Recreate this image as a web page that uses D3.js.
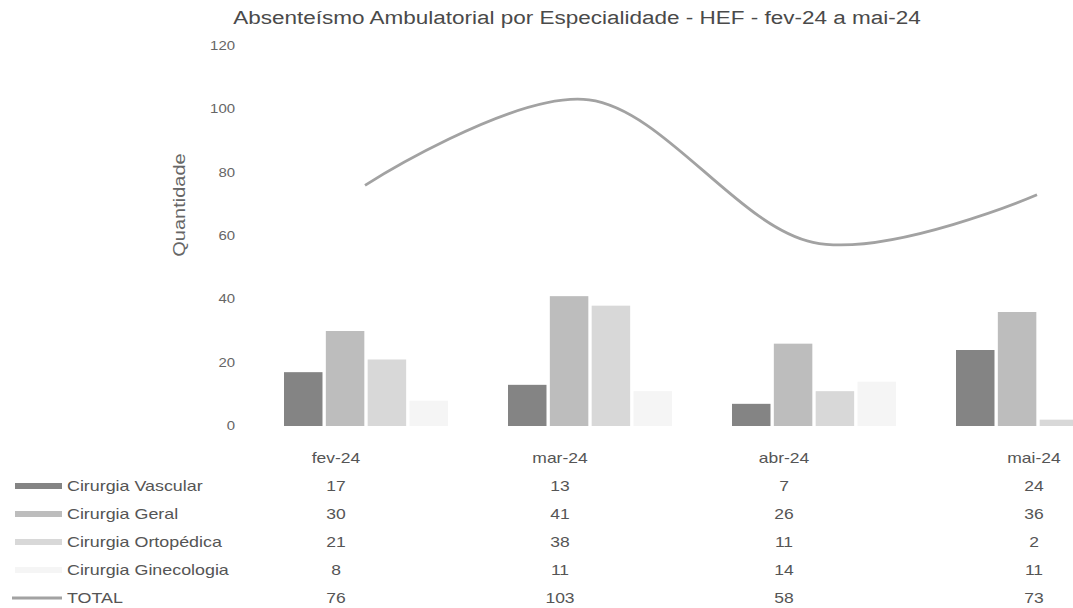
<!DOCTYPE html>
<html><head><meta charset="utf-8">
<script src="https://cdn.jsdelivr.net/npm/d3@7"></script>
<style>
html,body{margin:0;padding:0;background:#fff;}
svg{display:block;font-family:"Liberation Sans",Arial,sans-serif;}
</style></head>
<body>
<svg id="c" width="1073" height="608"></svg>
<script>
const categories = ["fev-24","mar-24","abr-24","mai-24"];
const seriesNames = ["Cirurgia Vascular","Cirurgia Geral","Cirurgia Ortopédica","Cirurgia Ginecologia"];
const vascular = [17,13,7,24];
const geral = [30,41,26,36];
const ortopedica = [21,38,11,2];
const ginecologia = [8,11,14,11];
const total = [76,103,58,73];
const yTicks = [0,20,40,60,80,100,120];
const barSeries = [vascular, geral, ortopedica, ginecologia];
const colors = ["#848484","#bdbdbd","#d8d8d8","#f5f5f5"];
const lineColor = "#a2a2a2";
const SX = 1.25; // horizontal stretch of text as in the reference

const svg = d3.select("#c");
const y = d3.scaleLinear().domain([0,120]).range([426,46]);
const x = d3.scaleBand().domain(categories).range([253,1149]);
const x1 = d3.scaleBand().domain(d3.range(4)).range([31,195]).paddingInner(0.08);

function stext(g, px, py, str, size, anchor, fill){
  return g.append("text")
    .attr("transform",`translate(${px},${py}) scale(${SX},1)`)
    .attr("text-anchor",anchor).attr("font-size",size).attr("fill",fill).text(str);
}

// title
stext(svg, 577, 24, "Absenteísmo Ambulatorial por Especialidade - HEF - fev-24 a mai-24", 18, "middle", "#4a4a4a");

// y axis
const ya = svg.append("g").attr("transform","translate(235,0)")
  .call(d3.axisLeft(y).tickValues(yTicks).tickSize(0).tickPadding(0));
ya.select(".domain").remove();
ya.selectAll("text").attr("font-size",13).attr("fill","#666")
  .attr("font-family","'Liberation Sans',Arial,sans-serif")
  .attr("transform","scale(1.15,1)").attr("x",0);
ya.selectAll(".tick").attr("transform",d=>`translate(0,${y(d)})`);

svg.append("text").attr("transform",`translate(185,205) rotate(-90) scale(${SX},1)`)
  .attr("text-anchor","middle").attr("font-size",16).attr("fill","#666").text("Quantidade");

// bars
barSeries.forEach((vals,si)=>{
  svg.append("g").selectAll("rect").data(vals).join("rect")
    .attr("x",(d,i)=>x(categories[i])+x1(si))
    .attr("width",x1.bandwidth())
    .attr("y",d=>y(d))
    .attr("height",d=>y(0)-y(d))
    .attr("fill",colors[si]);
});

// line
const line = d3.line()
  .x((d,i)=>x(categories[i])+x.bandwidth()/2)
  .y(d=>y(d))
  .curve(d3.curveCardinal.tension(0));
svg.append("path").datum(total).attr("d",line)
  .attr("fill","none").attr("stroke",lineColor).attr("stroke-width",2.8);

// data table
const tx = d3.scaleOrdinal().domain(categories).range([336,560,784,1034]);
const rowY = d3.scalePoint().domain(["head",...seriesNames,"TOTAL"]).range([458,598]);
const tcol = "#555";
categories.forEach(c=>stext(svg, tx(c), rowY("head")+5, c, 14, "middle", tcol));

const rows = [...seriesNames.map((n,i)=>({name:n,vals:barSeries[i],color:colors[i],type:"bar"})),
  {name:"TOTAL",vals:total,color:lineColor,type:"line"}];
rows.forEach(r=>{
  const ry = rowY(r.name);
  if(r.type==="bar"){
    svg.append("rect").attr("x",15).attr("y",ry-3).attr("width",47).attr("height",6).attr("fill",r.color);
  } else {
    svg.append("line").attr("x1",12).attr("x2",62).attr("y1",ry).attr("y2",ry)
      .attr("stroke",r.color).attr("stroke-width",3);
  }
  stext(svg, 67, ry+5, r.name, 14.3, "start", tcol);
  r.vals.forEach((v,i)=>stext(svg, tx(categories[i]), ry+5, v, 14, "middle", tcol));
});
</script>
</body></html>
